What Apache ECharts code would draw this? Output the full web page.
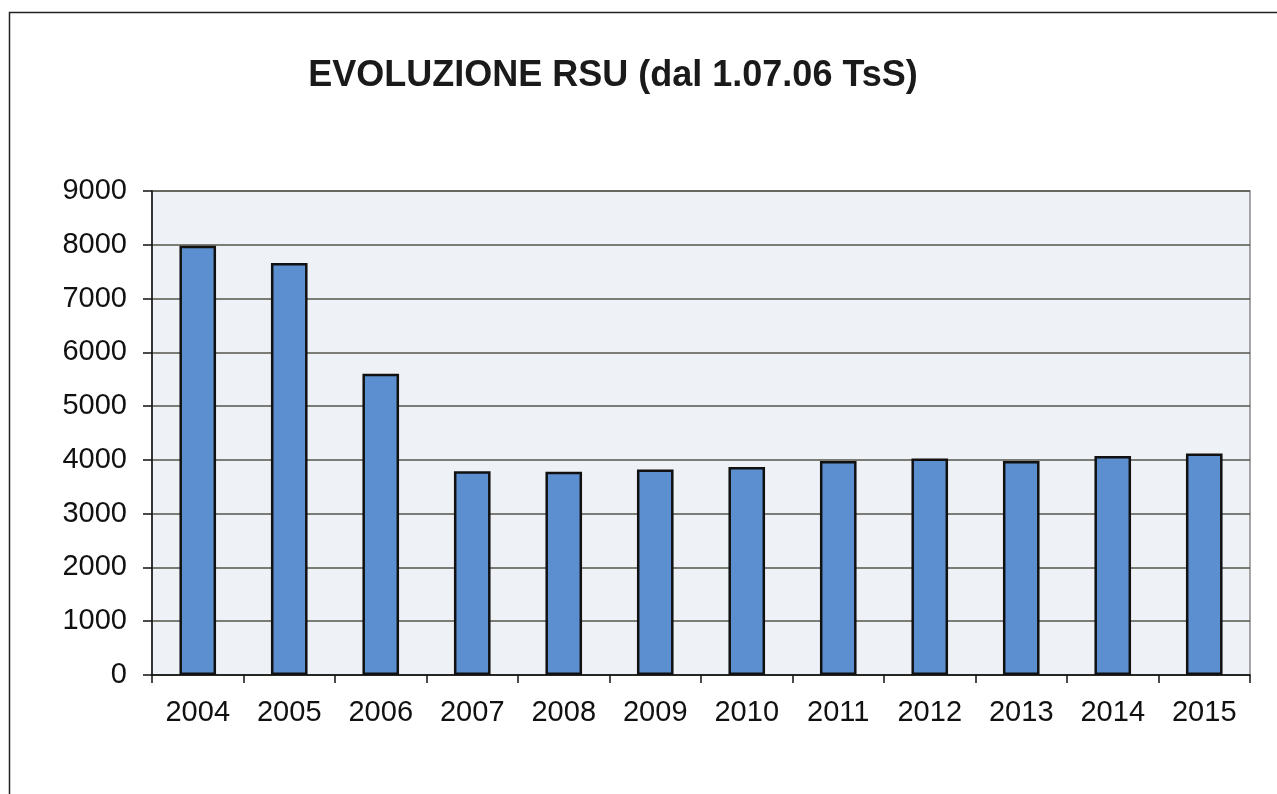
<!DOCTYPE html>
<html>
<head>
<meta charset="utf-8">
<script src="https://cdn.jsdelivr.net/npm/echarts@6/dist/echarts.min.js"></script>
<style>html,body{margin:0;padding:0;background:#fff;}#c{width:1277px;height:794px;}</style>
</head>
<body>
<div id="c"></div>
<script>
const categories = ['2004','2005','2006','2007','2008','2009','2010','2011','2012','2013','2014','2015'];
const values = [7980, 7660, 5600, 3790, 3780, 3820, 3870, 3980, 4025, 3980, 4070, 4120];
const yTicks = [0, 1000, 2000, 3000, 4000, 5000, 6000, 7000, 8000, 9000];
const titleText = 'EVOLUZIONE RSU (dal 1.07.06 TsS)';

const chart = echarts.init(document.getElementById('c'));
chart.setOption({
  animation: false,
  backgroundColor: '#ffffff',
  title: {
    text: titleText, left: 608, top: 53, textAlign: 'center',
    textStyle: { fontFamily: 'Liberation Sans, Arial', fontSize: 36, fontWeight: 'bold', color: '#1a1a1a' }
  },
  graphic: [
    { type: 'rect', shape: { x: 9.5, y: 12.5, width: 1300, height: 800 }, style: { fill: 'none', stroke: '#222', lineWidth: 1.5 }, z: -10 }
  ],
  grid: { left: 152, right: 27, top: 191, bottom: 119, show: true, backgroundColor: '#eef1f5', borderColor: '#8a8a8a', borderWidth: 1.5 },
  xAxis: {
    type: 'category', data: categories,
    axisLine: { lineStyle: { color: '#111', width: 1.5 } },
    axisTick: { show: true, length: 8, lineStyle: { color: '#111', width: 1.5 } },
    axisLabel: { fontFamily: 'Liberation Sans, Arial', fontSize: 29, color: '#111', margin: 23 }
  },
  yAxis: {
    type: 'value', min: 0, max: 9000, interval: 1000,
    axisLine: { show: true, lineStyle: { color: '#111', width: 1.5 } },
    axisTick: { show: true, length: 9, lineStyle: { color: '#111', width: 1.5 } },
    axisLabel: { fontFamily: 'Liberation Sans, Arial', fontSize: 29, color: '#111', margin: 25,
      formatter: v => yTicks.includes(v) ? String(v) : '' },
    splitLine: { lineStyle: { color: '#55554a', width: 1.5 } }
  },
  series: [{
    type: 'bar', data: values, barWidth: '40%',
    itemStyle: { color: '#5b8fd0', borderColor: '#111', borderWidth: 2.5 }
  }]
});
</script>
</body>
</html>
